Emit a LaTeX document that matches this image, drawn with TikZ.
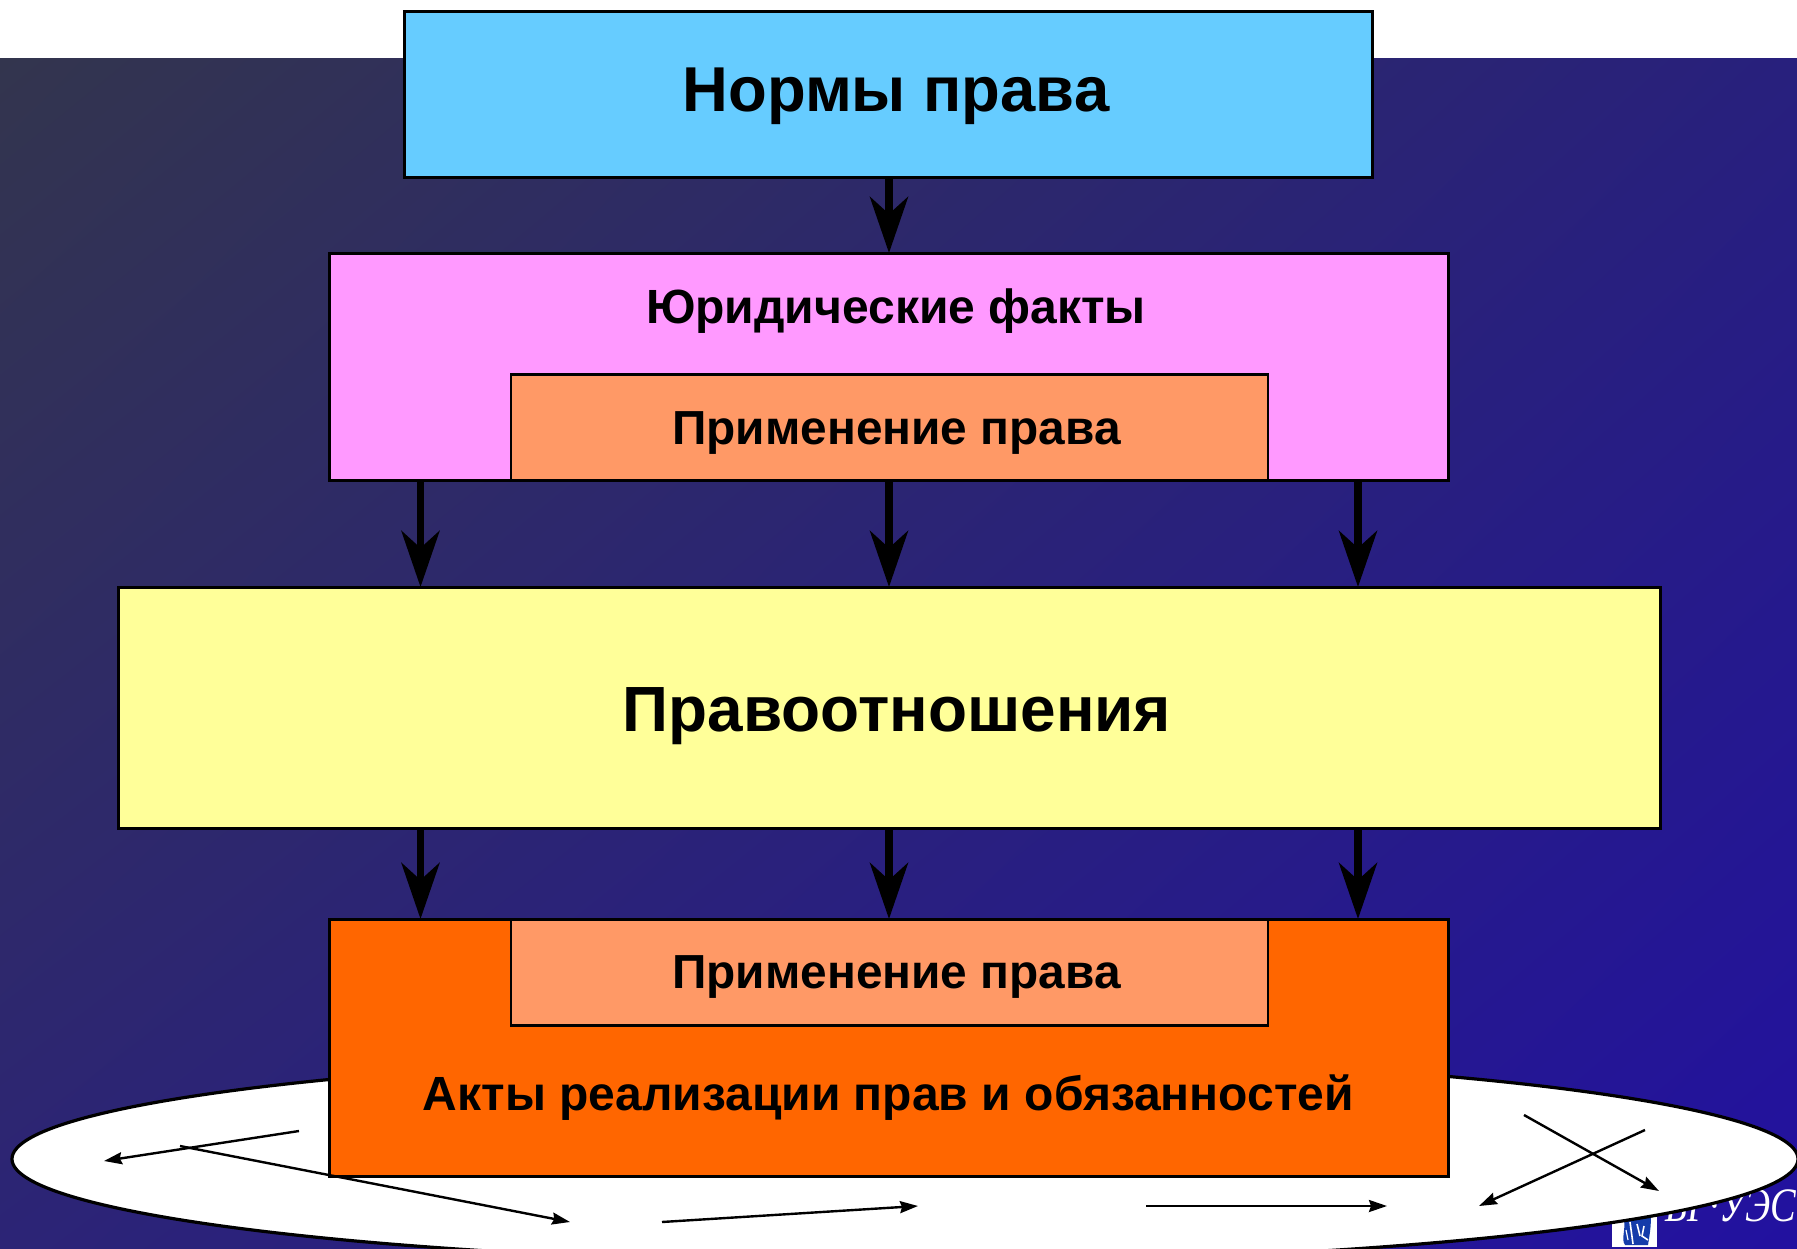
\documentclass[tikz,border=0pt]{standalone}
\usepackage{fontspec}
\setmainfont{Liberation Sans}
\newfontfamily\logofont{Liberation Serif}
\usetikzlibrary{arrows.meta,shapes.geometric,shadings}
\definecolor{boxblue}{RGB}{102,204,255}
\definecolor{boxpink}{RGB}{255,153,255}
\definecolor{boxsalmon}{RGB}{255,153,102}
\definecolor{boxyellow}{RGB}{255,255,153}
\definecolor{boxorange}{RGB}{255,102,0}
\definecolor{logoblue}{RGB}{20,60,170}
\definecolor{bgul}{RGB}{51,53,78}
\definecolor{bgur}{RGB}{40,32,125}
\definecolor{bgll}{RGB}{44,36,118}
\definecolor{bglr}{RGB}{34,17,160}
\tikzset{
  panel/.style={draw=black,line width=2.8pt,inner sep=0pt,anchor=north west},
  lab/.style={text=black,inner sep=0pt,anchor=center},
  bigarrow/.style={line width=7.5pt,-{Stealth[length=56pt,width=38pt,inset=17pt]},shorten >=-1pt},
  thinarrow/.style={line width=2.4pt,-{Stealth[length=18pt,width=12pt,inset=2pt]}}
}
\begin{document}
\begin{tikzpicture}[x=1pt,y=-1pt]
\useasboundingbox (0,0) rectangle (1797,1249);
\fill[white] (0,0) rectangle (1797,1249);
\shade[upper left=bgul,upper right=bgur,lower left=bgll,lower right=bglr]
  (0,59) rectangle (1797,1249);
% logo
\fill[white] (1612,1205) rectangle (1657,1247);
\fill[logoblue] (1622,1212) .. controls (1628,1228) and (1620,1238) .. (1625,1245)
  -- (1648,1245) .. controls (1650,1232) and (1652,1222) .. (1650,1210) -- cycle;
\draw[white,line width=1.6pt] (1630,1222) -- (1633,1244);
\draw[white,line width=1.6pt] (1637,1224) -- (1640,1236);
\draw[white,line width=1.6pt] (1644,1226) -- (1642,1236) -- (1648,1240);
\draw[white,line width=1.2pt] (1626,1230) -- (1628,1240);
\node[anchor=base west,inner sep=0pt,text=white,xscale=.8,transform shape,font=\logofont\itshape\fontsize{48}{48}\selectfont] (logo) at (1665,1221) {БГ·УЭС};
% ellipse
\node[ellipse,draw=black,line width=3.2pt,fill=white,minimum width=1786pt,minimum height=208pt,inner sep=0pt] (oval) at (905,1159) {};
% boxes
\node[panel,fill=boxblue,minimum width=968pt,minimum height=166pt] (norm) at (403,10.5) {};
\node[panel,fill=boxpink,minimum width=1119pt,minimum height=227pt] (fact) at (328,252) {};
\node[panel,fill=boxsalmon,minimum width=757pt,minimum height=106pt] (app1) at (509.5,373) {};
\node[panel,fill=boxyellow,minimum width=1542pt,minimum height=241pt] (rel) at (117,586) {};
\node[panel,fill=boxorange,minimum width=1119pt,minimum height=257pt] (act) at (328,918) {};
\node[panel,fill=boxsalmon,minimum width=757pt,minimum height=106pt] (app2) at (509.5,918) {};
% labels
\node[lab,font=\bfseries\fontsize{63.4}{66}\selectfont] (tnorm) at (896,96) {Нормы права};
\node[lab,font=\bfseries\fontsize{48}{48}\selectfont] (tfact) at (896,311) {Юридические факты};
\node[lab,font=\bfseries\fontsize{47.8}{48}\selectfont] (tapp1) at (896.5,433) {Применение права};
\node[lab,font=\bfseries\fontsize{63.9}{66}\selectfont] (trel) at (897,716.5) {Правоотношения};
\node[lab,font=\bfseries\fontsize{47.8}{48}\selectfont] (tapp2) at (896.5,977) {Применение права};
\node[lab,font=\bfseries\fontsize{48}{48}\selectfont] (tact) at (888.5,1097.5) {Акты реализации прав и обязанностей};
% big arrows
\coordinate (cl) at (420.5,0);
\coordinate (cm) at (889,0);
\coordinate (cr) at (1358,0);
\draw[bigarrow] (cm |- norm.south) -- (cm |- fact.north);
\foreach \c in {cl,cm,cr}{
  \draw[bigarrow] (\c |- fact.south) -- (\c |- rel.north);
  \draw[bigarrow] (\c |- rel.south) -- (\c |- act.north);
}
% thin arrows
\coordinate (a1s) at (299,1131); \coordinate (a1e) at (104,1161);
\coordinate (a2s) at (180,1146); \coordinate (a2e) at (570,1222);
\coordinate (a3s) at (662,1222); \coordinate (a3e) at (918,1206);
\coordinate (a4s) at (1146,1206); \coordinate (a4e) at (1387,1206);
\coordinate (a5s) at (1524,1115); \coordinate (a5e) at (1659,1191);
\coordinate (a6s) at (1645,1130); \coordinate (a6e) at (1479,1206);
\foreach \i in {1,...,6}{ \draw[thinarrow] (a\i s) -- (a\i e); }
\end{tikzpicture}
\end{document}
